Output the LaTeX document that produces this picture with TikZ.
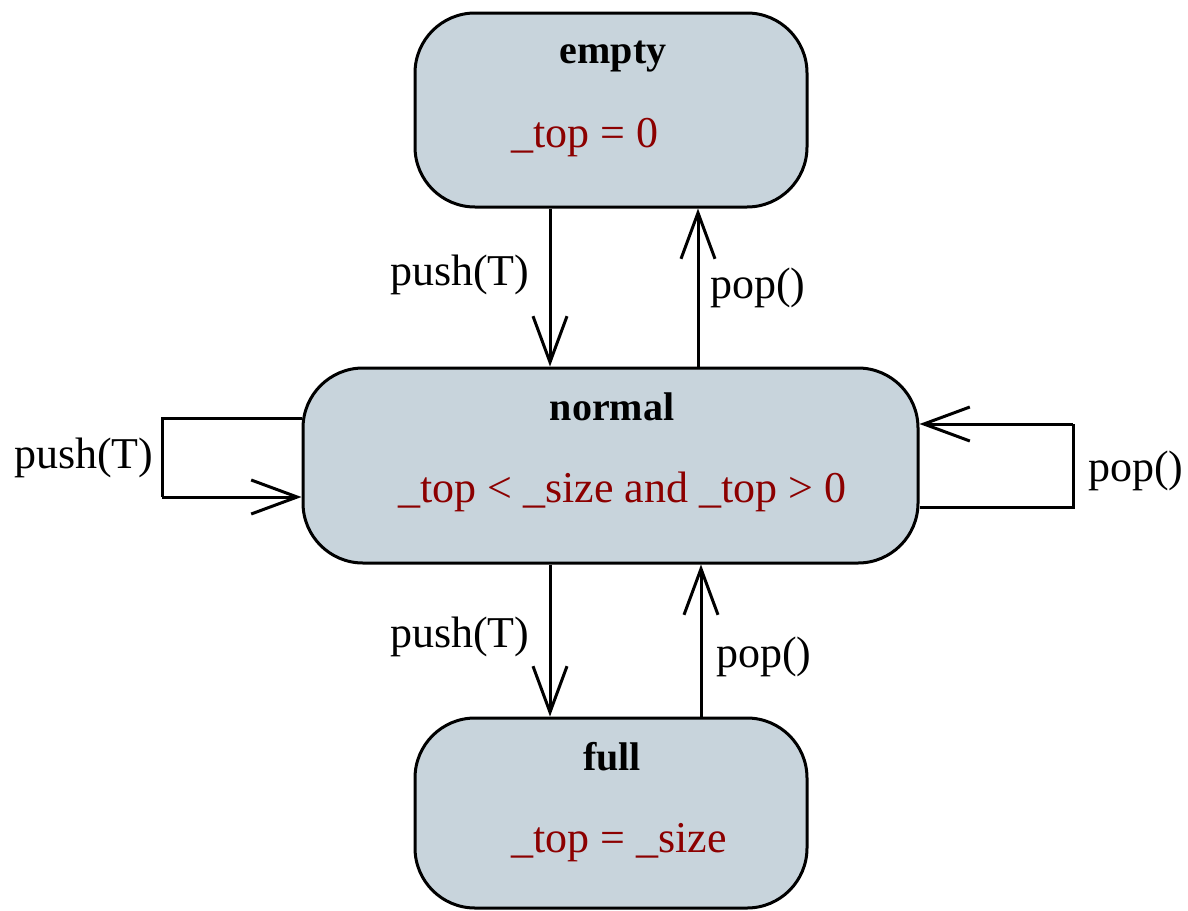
\documentclass[tikz,border=0pt]{standalone}
\usepackage{fontspec}
\setmainfont{Liberation Serif}
\newfontfamily\diagfont{Liberation Serif}
\usetikzlibrary{arrows.meta}
\definecolor{statefill}{RGB}{200,212,220}
\definecolor{invred}{RGB}{140,0,0}
\tikzset{
  statebox/.style={draw=black, line width=3pt, fill=statefill, rounded corners=60pt,
    minimum width=#1, inner sep=0pt},
  statename/.style={anchor=base, font=\diagfont\fontsize{40}{48}\selectfont\bfseries, inner sep=0pt},
  invariant/.style={anchor=base west, text=invred, font=\diagfont\fontsize{44}{52}\selectfont, inner sep=0pt},
  trlabel/.style={anchor=base west, font=\diagfont\fontsize{44}{52}\selectfont, inner sep=0pt},
  tr/.style={line width=3pt, -{Straight Barb[length=46pt, width=34pt, line width=3pt]}},
  loopline/.style={line width=3pt}
}
\begin{document}
\begin{tikzpicture}[x=1pt, y=-1pt]
  \useasboundingbox (0,0) rectangle (1188,910);

  % states
  \node[statebox=392pt, minimum height=194pt] (empty)  at (611,110)   {};
  \node[statebox=615pt, minimum height=195pt] (normal) at (610.5,465.5) {};
  \node[statebox=392pt, minimum height=190pt] (full)   at (611,813)   {};

  % state names and invariants
  \node[statename] (emptyname)  at (613,63)  {empty};
  \node[invariant] (emptyinv)   at (511,147) {\_top = 0};
  \node[statename] (normalname) at (612,420) {normal};
  \node[invariant] (normalinv)  at (398,502) {\_top < \_size and \_top > 0};
  \node[statename] (fullname)   at (612,770) {full};
  \node[invariant] (fullinv)    at (511,852) {\_top = \_size};

  % columns and rows used by the transitions
  \coordinate (cpush) at (550,0);
  \coordinate (cpopa) at (698,0);
  \coordinate (cpopb) at (701,0);
  \coordinate (lefttop) at (162,418);
  \coordinate (leftbot) at (162,497);
  \coordinate (righttop) at (1073,424);
  \coordinate (rightbot) at (1073,507);

  % transitions between empty and normal
  \draw[tr] (empty.south -| cpush) -- (normal.north -| cpush);
  \draw[tr] (normal.north -| cpopa) -- (empty.south -| cpopa);
  \node[trlabel] (l1) at (390,285) {push(T)};
  \node[trlabel] (l2) at (710,298) {pop()};

  % self transitions on normal
  \draw[loopline] (normal.west |- lefttop) -- (lefttop) -- (leftbot);
  \draw[tr] (leftbot) -- (normal.west |- leftbot);
  \node[trlabel] (l3) at (14,468) {push(T)};
  \draw[loopline] (normal.east |- rightbot) -- (rightbot) -- (righttop);
  \draw[tr] (righttop) -- (normal.east |- righttop);
  \node[trlabel] (l4) at (1088,481) {pop()};

  % transitions between normal and full
  \draw[tr] (normal.south -| cpush) -- (full.north -| cpush);
  \draw[tr] (full.north -| cpopb) -- (normal.south -| cpopb);
  \node[trlabel] (l5) at (390,647) {push(T)};
  \node[trlabel] (l6) at (716,667) {pop()};
\end{tikzpicture}
\end{document}
